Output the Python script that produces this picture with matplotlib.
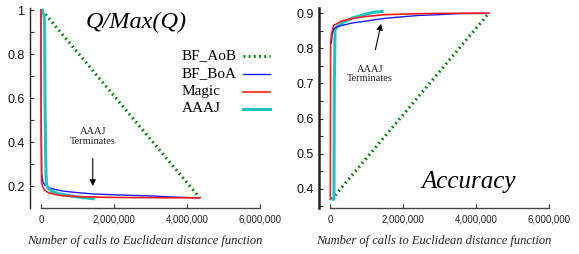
import numpy as np
import matplotlib
matplotlib.use("Agg")
import matplotlib.pyplot as plt

# ---- data ----
# Left panel: Q/Max(Q)
aob_q_x = [3e4, 4.35e6]
aob_q_y = [1.0, 0.146]

boa_q_x = [0, 1e4, 2e4, 5e4, 1e5, 2e5, 4e5, 6e5, 1e6, 1.42e6, 2e6, 3e6, 3.6e6, 4.35e6]
boa_q_y = [1.0, 0.45, 0.26, 0.22, 0.205, 0.193, 0.184, 0.177, 0.170, 0.164, 0.160, 0.155, 0.150, 0.146]

magic_q_x = [0, 5e3, 1.5e4, 3e4, 5e4, 1e5, 2e5, 4e5, 6e5, 1e6, 1.42e6, 2e6, 3e6, 4.35e6]
magic_q_y = [1.0, 0.5, 0.225, 0.21, 0.196, 0.182, 0.170, 0.161, 0.156, 0.152, 0.150, 0.148, 0.147, 0.146]

aaaj_q_x = [3e4, 8e4, 1.0e5, 1.1e5, 1.3e5, 1.4e5, 1.5e5, 2e5, 3e5, 5e5, 8e5, 1.1e6, 1.43e6]
aaaj_q_y = [1.0, 0.98, 0.95, 0.6, 0.35, 0.25, 0.205, 0.19, 0.176, 0.165, 0.155, 0.148, 0.142]

# Right panel: Accuracy
aob_a_x = [5e4, 4.35e6]
aob_a_y = [0.37, 0.9]

boa_a_x = [4e4, 6e4, 1e5, 2e5, 4e5, 6e5, 1e6, 1.54e6, 2e6, 2.45e6, 3e6, 3.5e6, 4.35e6]
boa_a_y = [0.815, 0.84, 0.855, 0.862, 0.867, 0.872, 0.878, 0.886, 0.890, 0.894, 0.896, 0.899, 0.900]

magic_a_x = [1e4, 1.5e4, 2e4, 5e4, 1e5, 3e5, 6e5, 1e6, 1.5e6, 2.5e6, 3.5e6, 4.35e6]
magic_a_y = [0.37, 0.6, 0.82, 0.845, 0.865, 0.877, 0.885, 0.891, 0.896, 0.899, 0.900, 0.900]

aaaj_a_x = [8e4, 1.1e5, 1.2e5, 1.4e5, 2.5e5, 4e5, 6e5, 8e5, 1e6, 1.2e6, 1.43e6]
aaaj_a_y = [0.37, 0.37, 0.7, 0.855, 0.866, 0.876, 0.886, 0.892, 0.898, 0.903, 0.905]

x_ticks = [0, 2e6, 4e6, 6e6]
x_labels = ["0", "2,000,000", "4,000,000", "6,000,000"]
q_ticks = [0.2, 0.4, 0.6, 0.8, 1.0]
q_labels = ["0.2", "0.4", "0.6", "0.8", "1"]
a_ticks = [0.4, 0.5, 0.6, 0.7, 0.8, 0.9]
a_labels = ["0.4", "0.5", "0.6", "0.7", "0.8", "0.9"]
legend_names = ["BF_AoB", "BF_BoA", "Magic", "AAAJ"]

GREEN = "#008a00"
BLUE = "#1a1aff"
RED = "#ff1a1a"
CYAN = "#1ec4c4"
DOTS = (0, (0.6, 1.1))
SERIF = "Liberation Serif"
SANS = "Liberation Sans"

fig = plt.figure(figsize=(5.79, 2.54), dpi=100)
axq = fig.add_axes([30 / 579, 46 / 254, 230 / 579, 200 / 254])
axa = fig.add_axes([319 / 579, 46 / 254, 230 / 579, 200 / 254])


def style(ax, ylim, yt, yl, minor, spw):
    ax.set_xlim(-0.30e6, 6.0e6)
    ax.set_ylim(*ylim)
    for s in ["top", "right"]:
        ax.spines[s].set_visible(False)
    ax.spines["bottom"].set_bounds(0, 6e6)
    ax.spines["bottom"].set_color("#444444")
    ax.spines["bottom"].set_linewidth(1.0)
    ax.spines["left"].set_color("#222222")
    ax.spines["left"].set_linewidth(spw)
    ax.set_xticks(x_ticks)
    ax.set_xticklabels(x_labels, family=SANS, fontsize=7, color="#222222")
    ax.set_yticks(yt)
    ax.set_yticklabels(yl, family=SANS, fontsize=9, color="#111111")
    ax.set_yticks(minor, minor=True)
    ax.tick_params(axis="both", which="both", direction="in", length=3, width=0.8, color="#333333")
    ax.tick_params(axis="x", pad=5)
    ax.tick_params(axis="y", pad=4)
    ax.set_xlabel("Number of calls to Euclidean distance function", family=SERIF,
                  style="italic", fontsize=9, color="#222222", labelpad=7)


# left panel
axq.plot(aob_q_x, aob_q_y, color=GREEN, lw=2.2, ls=DOTS)
axq.plot(boa_q_x, boa_q_y, color=BLUE, lw=1.0)
axq.plot(aaaj_q_x, aaaj_q_y, color=CYAN, lw=2.2)
axq.plot(magic_q_x, magic_q_y, color=RED, lw=1.2)
style(axq, (0.1, 1.01), q_ticks, q_labels, [0.3, 0.5, 0.7, 0.9], 1.0)
axq.text(2.6e6, 0.945, "Q/Max(Q)", family=SERIF, style="italic", fontsize=17.5,
         ha="center", va="center")
axq.annotate("AAAJ\nTerminates", xy=(1.42e6, 0.2), xytext=(1.42e6, 0.425),
             family=SERIF, fontsize=7.5, ha="center", va="center", color="#222222",
             linespacing=1.1,
             arrowprops=dict(arrowstyle="-|>", color="black", lw=0.8, mutation_scale=9,
                             shrinkA=7, shrinkB=0))

# legend: left-aligned names, line sample on the right
leg_styles = [
    dict(color=GREEN, lw=2.2, ls=DOTS),
    dict(color=BLUE, lw=1.0),
    dict(color=RED, lw=1.2),
    dict(color=CYAN, lw=2.2),
]
leg_rows = [0.76, 0.67, 0.58, 0.495]
for name, st, yy in zip(legend_names, leg_styles, leg_rows):
    axq.text(0.661, yy, name, transform=axq.transAxes, family=SERIF, fontsize=11,
             ha="left", va="center")
    axq.plot([0.926, 1.043], [yy, yy], transform=axq.transAxes, clip_on=False, **st)

# right panel
axa.plot(aob_a_x, aob_a_y, color=GREEN, lw=2.2, ls=DOTS)
axa.plot(aaaj_a_x, aaaj_a_y, color=CYAN, lw=2.2)
axa.plot(boa_a_x, boa_a_y, color=BLUE, lw=1.0)
axa.plot(magic_a_x, magic_a_y, color=RED, lw=1.2)
style(axa, (0.345, 0.915), a_ticks, a_labels, [0.35, 0.45, 0.55, 0.65, 0.75, 0.85], 1.8)
axa.text(3.8e6, 0.42, "Accuracy", family=SERIF, style="italic", fontsize=18,
         ha="center", va="center")
axa.annotate("AAAJ\nTerminates", xy=(1.4e6, 0.87), xytext=(1.1e6, 0.727),
             family=SERIF, fontsize=7.5, ha="center", va="center", color="#222222",
             linespacing=1.1,
             arrowprops=dict(arrowstyle="-|>", color="black", lw=0.8, mutation_scale=9,
                             shrinkA=9, shrinkB=0))

fig.savefig("out.png", dpi=100)
